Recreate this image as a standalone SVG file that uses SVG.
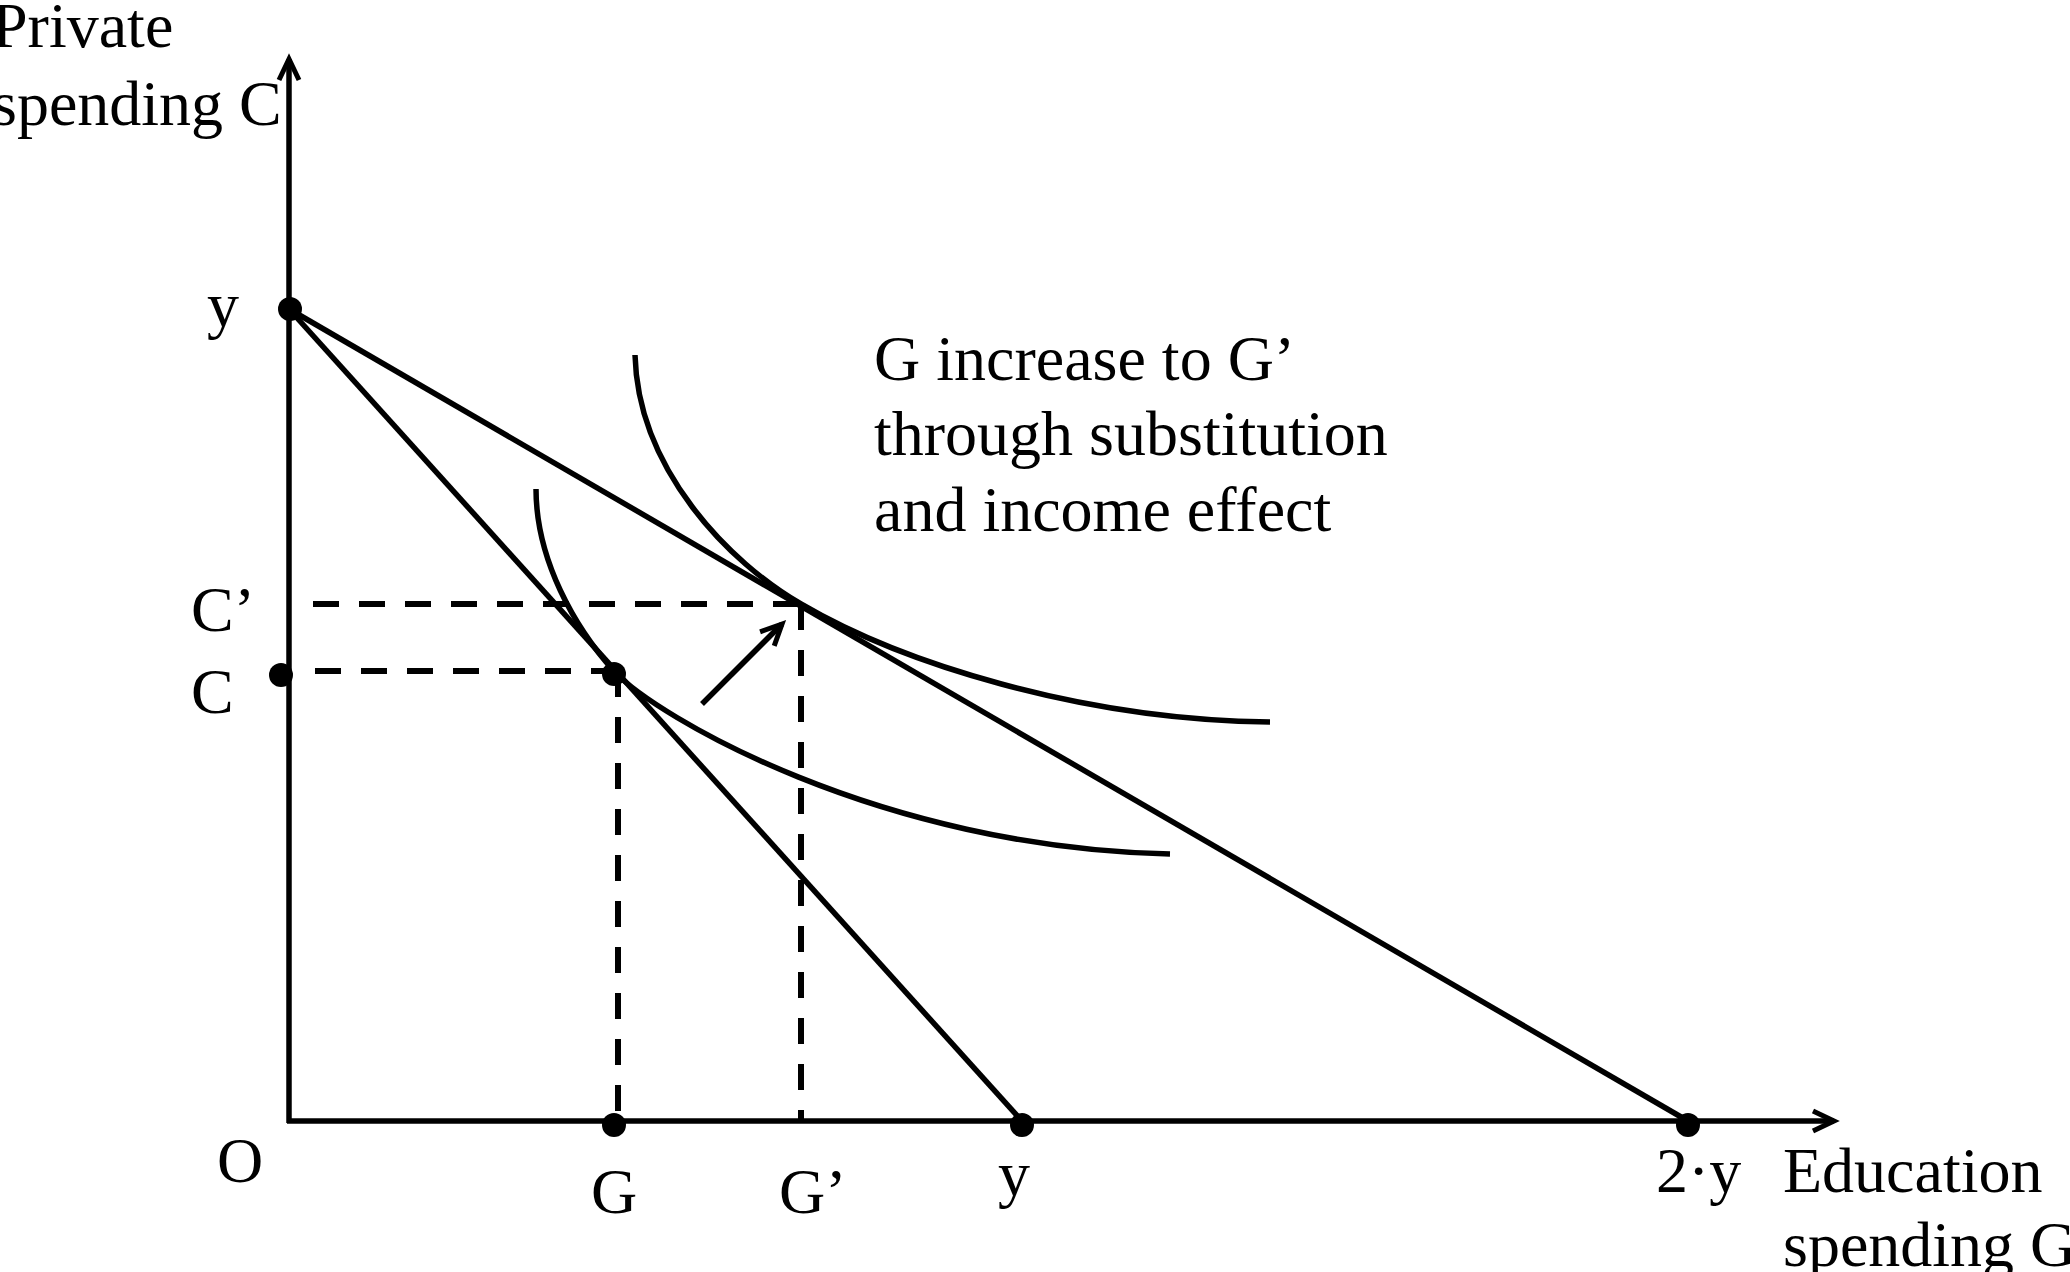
<svg xmlns="http://www.w3.org/2000/svg" width="2070" height="1272" viewBox="0 0 2070 1272">
<style>
  text { font-family: "Liberation Serif", "Times New Roman", serif; font-size: 64px; fill: #000; }
  .ln { fill: none; stroke: #000; stroke-width: 5.5; }
  .dash { fill: none; stroke: #000; stroke-width: 6; stroke-dasharray: 26 20; }
  .dot { fill: #000; }
</style>
<defs>
  <marker id="arr" markerUnits="userSpaceOnUse" markerWidth="60" markerHeight="60" viewBox="-30 -30 60 60" refX="0" refY="0" orient="auto" overflow="visible">
    <path d="M-21,-10 L0,0 L-21,10" fill="none" stroke="#000" stroke-width="5" stroke-linejoin="miter"/>
  </marker>
</defs>
<rect width="2070" height="1272" fill="#fff"/>

<g id="connectors">
  <path id="axis-c" class="ln" d="M289,1123 L289,59" marker-end="url(#arr)"/>
  <path id="axis-g" class="ln" d="M287,1121 L1834,1121" marker-end="url(#arr)"/>
  <path id="budget-1" class="ln" d="M289,309 L1022,1121"/>
  <path id="budget-2" class="ln" d="M289,309 L1688,1121"/>
  <path id="ic-low" class="ln" d="M536,489 C536,560 575,628 614,671 C655,716 880,848 1170,854"/>
  <path id="ic-high" class="ln" d="M635,355 C638,470 730,563 801,604 C900,662 1080,720 1270,722"/>
  <path id="dash-c2" class="dash" d="M313,604 L801,604"/>
  <path id="dash-c" class="dash" d="M315,671 L614,671"/>
  <path id="dash-g" class="dash" d="M618,671 L618,1121"/>
  <path id="dash-g2" class="dash" d="M801,604 L801,1121"/>
  <path id="shift-arrow" class="ln" d="M702,704 L782,624" marker-end="url(#arr)"/>
</g>

<g id="label-axis-c">
  <text x="-8" y="47">Private</text>
  <text x="-8" y="125">spending C</text>
</g>
<g id="label-axis-g">
  <text x="1783" y="1192">Education</text>
  <text x="1783" y="1266">spending G</text>
</g>
<g id="label-origin"><text x="217" y="1182">O</text></g>

<g id="node-y-c">
  <circle class="dot" cx="290" cy="309" r="12"/>
  <text x="207" y="326">y</text>
</g>
<g id="node-c2">
  <text x="191" y="631">C’</text>
</g>
<g id="node-c">
  <circle class="dot" cx="281" cy="675" r="12"/>
  <text x="191" y="713">C</text>
</g>
<g id="node-tangent">
  <circle class="dot" cx="614" cy="674" r="12"/>
</g>
<g id="node-g">
  <circle class="dot" cx="614" cy="1125" r="12"/>
  <text x="614" y="1213" text-anchor="middle">G</text>
</g>
<g id="node-g2">
  <text x="779" y="1213">G’</text>
</g>
<g id="node-y-g">
  <circle class="dot" cx="1022" cy="1125" r="12"/>
  <text x="998" y="1195">y</text>
</g>
<g id="node-2y">
  <circle class="dot" cx="1688" cy="1125" r="12"/>
  <text x="1656" y="1192">2·y</text>
</g>
<g id="note">
  <text x="874" y="380">G increase to G’</text>
  <text x="874" y="455">through substitution</text>
  <text x="874" y="531">and income effect</text>
</g>
</svg>
